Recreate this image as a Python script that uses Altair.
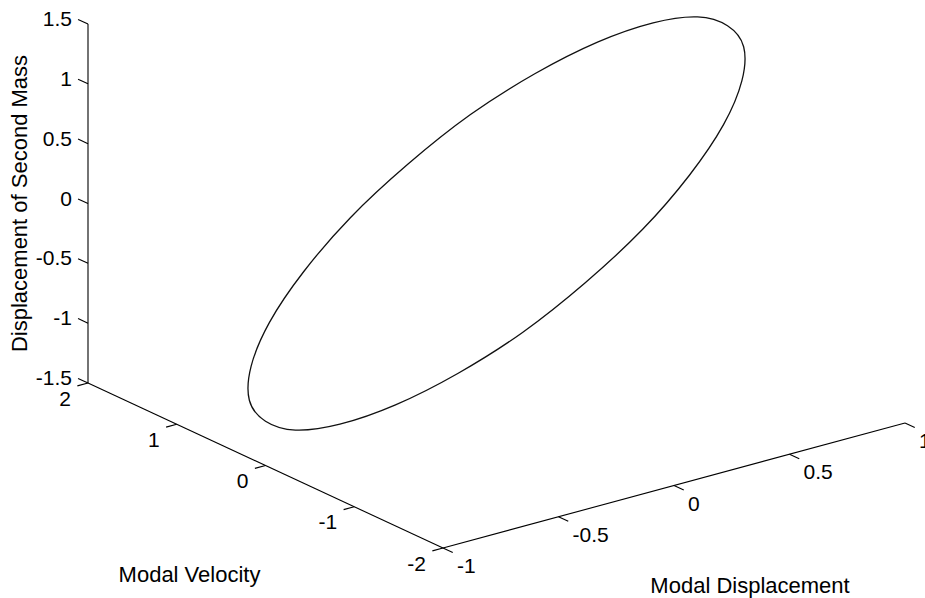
import altair as alt
import pandas as pd

# ---- 3-D trajectory (one sample every 15 degrees of phase) ----
modal_displacement = [1.00, 0.97, 0.87, 0.71, 0.50, 0.26, 0.00, -0.26, -0.50, -0.71, -0.87, -0.97,
                      -1.00, -0.97, -0.87, -0.71, -0.50, -0.26, 0.00, 0.26, 0.50, 0.71, 0.87, 0.97]
modal_velocity = [0.00, -0.26, -0.50, -0.71, -0.87, -0.97, -1.00, -0.97, -0.87, -0.71, -0.50, -0.26,
                  0.00, 0.26, 0.50, 0.71, 0.87, 0.97, 1.00, 0.97, 0.87, 0.71, 0.50, 0.26]
second_mass = [1.13, 1.06, 0.91, 0.70, 0.44, 0.15, -0.15, -0.44, -0.69, -0.90, -1.05, -1.13,
               -1.13, -1.06, -0.91, -0.70, -0.44, -0.15, 0.15, 0.44, 0.69, 0.90, 1.05, 1.13]

# ---- axes ----
x_limits = [-1, 1]        # Modal Displacement
v_limits = [-2, 2]        # Modal Velocity
z_limits = [-1.5, 1.5]    # Displacement of Second Mass
x_ticks = [-1, -0.5, 0, 0.5, 1]
x_tick_labels = ["-1", "-0.5", "0", "0.5", "1"]
v_ticks = [-2, -1, 0, 1, 2]
v_tick_labels = ["-2", "-1", "0", "1", "2"]
z_ticks = [-1.5, -1, -0.5, 0, 0.5, 1, 1.5]
z_tick_labels = ["-1.5", "-1", "-0.5", "0", "0.5", "1", "1.5"]

# ---- view (3-D box projected on the page) ----
W, H = 925, 598
ORIGIN = (443.0, 548.0)          # page position of the box corner (xmin, vmin, zmin)
X_AXIS = (462.0, -125.0)         # page vector spanned by the full x range
V_AXIS = (-355.0, -165.0)        # page vector spanned by the full v range
Z_AXIS = (0.0, -359.0)           # page vector spanned by the full z range


def project(x, v, z):
    fx = (x - x_limits[0]) / (x_limits[1] - x_limits[0])
    fv = (v - v_limits[0]) / (v_limits[1] - v_limits[0])
    fz = (z - z_limits[0]) / (z_limits[1] - z_limits[0])
    px = ORIGIN[0] + fx * X_AXIS[0] + fv * V_AXIS[0] + fz * Z_AXIS[0]
    py = ORIGIN[1] + fx * X_AXIS[1] + fv * V_AXIS[1] + fz * Z_AXIS[1]
    return px, py


xmin, xmax = x_limits
vmin, vmax = v_limits
zmin, zmax = z_limits

# curve
curve_rows = []
for i, (a, b, c) in enumerate(zip(modal_displacement, modal_velocity, second_mass)):
    px, py = project(a, b, c)
    curve_rows.append({"i": i, "px": px, "py": py})
curve = pd.DataFrame(curve_rows)

# axis lines and ticks
segs = []


def seg(p, q):
    (x1, y1), (x2, y2) = project(*p), project(*q)
    segs.append({"px": x1, "py": y1, "px2": x2, "py2": y2})


seg((xmin, vmin, zmin), (xmax, vmin, zmin))
seg((xmin, vmin, zmin), (xmin, vmax, zmin))
seg((xmin, vmax, zmin), (xmin, vmax, zmax))
for t in x_ticks:
    seg((t, vmin, zmin), (t, vmin - 0.11, zmin))
for t in v_ticks:
    seg((xmin, t, zmin), (xmin - 0.046, t, zmin))
for t in z_ticks:
    seg((xmin, vmax, t), (xmin, vmax + 0.112, t))
segments = pd.DataFrame(segs)


# tick labels
def labels(points, texts, dx, dy):
    rows = []
    for p, s in zip(points, texts):
        px, py = project(*p)
        rows.append({"px": px + dx, "py": py + dy, "label": s})
    return pd.DataFrame(rows)


x_lab = labels([(t, vmin, zmin) for t in x_ticks], x_tick_labels, 14, 19)
v_lab = labels([(xmin, t, zmin) for t in v_ticks], v_tick_labels, -17, 16.5)
z_lab = labels([(xmin, vmax, t) for t in z_ticks], z_tick_labels, -16, -4)

title_h = pd.concat([
    labels([(0, vmin, zmin)], ["Modal Displacement"], 76, 100),
    labels([(xmin, 0, zmin)], ["Modal Velocity"], -76, 109),
])
title_z = labels([(xmin, vmax, 0)], ["Displacement of Second Mass"], -68, 0)

xs = alt.Scale(domain=[0, W], nice=False, zero=False)
ys = alt.Scale(domain=[0, H], nice=False, zero=False, reverse=True)
X = alt.X("px:Q", scale=xs, axis=None)
Y = alt.Y("py:Q", scale=ys, axis=None)

FONT = "Liberation Sans"

rules = alt.Chart(segments).mark_rule(color="#000000", strokeWidth=1.1).encode(
    x=X, y=Y, x2="px2:Q", y2="py2:Q"
)
line = alt.Chart(curve).mark_line(
    color="#111111", strokeWidth=1.3, interpolate="cardinal-closed"
).encode(x=X, y=Y, order="i:Q")


def text_layer(df, align, size, angle=0):
    return alt.Chart(df).mark_text(
        font=FONT, fontSize=size, align=align, baseline="middle", color="#000000", angle=angle
    ).encode(x=X, y=Y, text="label:N")


chart = alt.layer(
    rules,
    line,
    text_layer(x_lab, "left", 21),
    text_layer(v_lab, "right", 21),
    text_layer(z_lab, "right", 21),
    text_layer(title_h, "center", 22),
    text_layer(title_z, "center", 22, angle=270),
).properties(
    width=W, height=H, padding=0, autosize=alt.AutoSizeParams(type="none"),
    background="white",
).configure_view(stroke=None)

chart.save("out.html", embed_options={"renderer": "svg", "actions": False})
